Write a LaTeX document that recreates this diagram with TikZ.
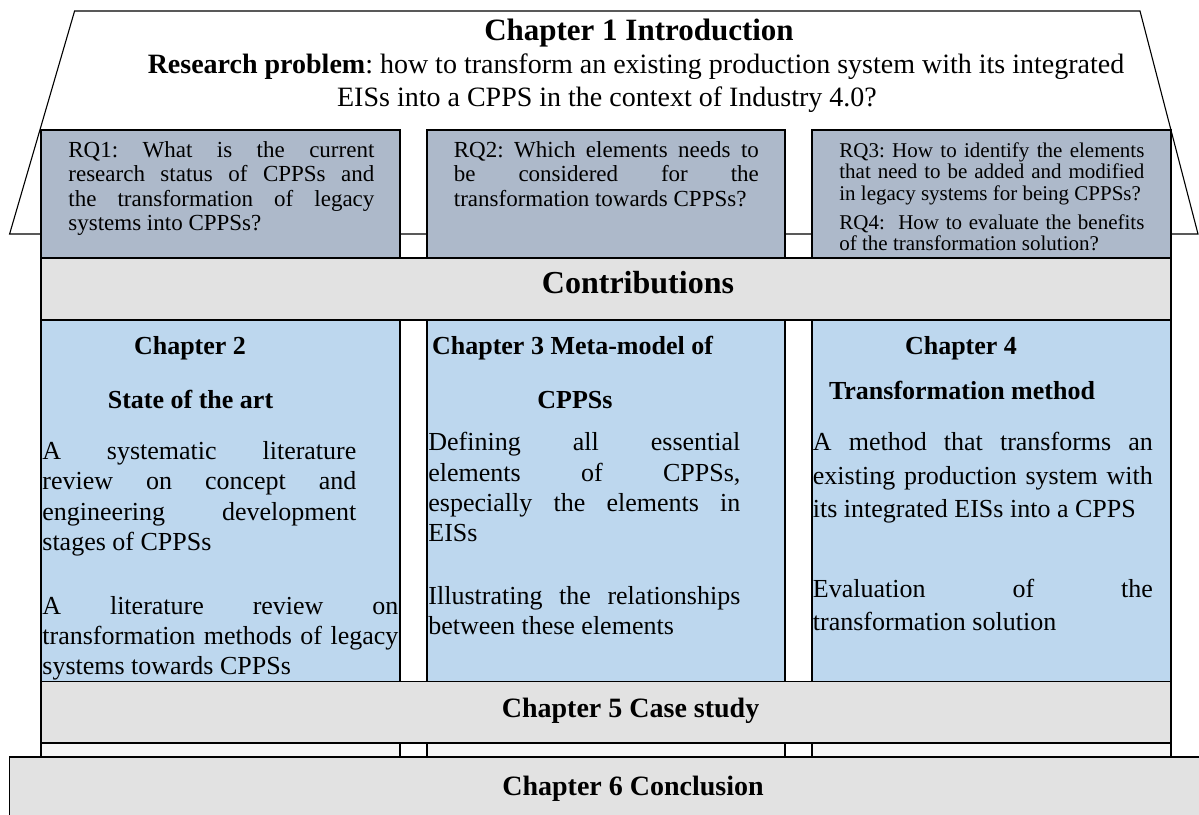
\documentclass[tikz,border=0pt]{standalone}
\usepackage{fontspec}
\setmainfont{Liberation Serif}
\frenchspacing
\definecolor{rqblue}{HTML}{ADB9CA}
\definecolor{chblue}{HTML}{BDD7EE}
\definecolor{bandgray}{HTML}{E2E2E2}
\definecolor{footgray}{HTML}{F5F5F5}
\newcommand{\fsz}[2]{\fontsize{#1}{#2}\selectfont}

\begin{document}
\begin{tikzpicture}[x=0.5pt,y=-0.5pt,
	roof/.style={draw=black,line width=0.55pt},
	boxline/.style={draw=black,line width=0.85pt},
	txt/.style={inner sep=0pt,anchor=base},
	para/.style={inner sep=0pt,anchor=base west,align=justify}]
			\clip (0,0) rectangle (1199,814);
			% roof of the house
			\draw [roof] (74.6,11) -- (1140,11) -- (1198,234) -- (9.6,234) -- cycle;
			\foreach \l/\r [count=\k] in {41.3/400.3,426.7/785,811.8/1171}{
				\draw [boxline,fill=rqblue] (\l,130) rectangle (\r,258.3);
				\draw [boxline,fill=chblue] (\l,320) rectangle (\r,681.5);
				\draw [boxline,fill=footgray] (\l,742.7) rectangle (\r,757.3);
			}
			\draw [boxline,fill=bandgray] (41.3,258.3) rectangle (1171,320);
			\draw [boxline,fill=bandgray] (41.3,681.5) rectangle (1171,742.7);
			\draw [boxline,fill=bandgray] (9.6,757.3) rectangle (1215,830);
			% roof texts
			\node [txt,font=\bfseries\fsz{15.5}{18}] (intro) at (639,40) {Chapter 1 Introduction};
			\node [txt,font=\fsz{14}{16}] (probl-a) at (636,73) {\textbf{Research problem}: how to transform an existing production system with its integrated};
			\node [txt,font=\fsz{14}{16}] (probl-b) at (607,106) {EISs into a CPPS in the context of Industry 4.0?};
			\node [para,text width=153pt,font=\fsz{11.5}{12.25}] (rq-1) at (68,157) {RQ1: What is the current\linebreak research status of CPPSs and\linebreak the transformation of legacy\linebreak systems into CPPSs?};
			\node [para,text width=152.5pt,font=\fsz{11.5}{12.25}] (rq-2) at (453.5,157) {RQ2: Which elements needs to\linebreak be considered for the\linebreak transformation towards CPPSs?};
			\node [para,text width=152.5pt,font=\fsz{10.5}{10.75}] (rq-3) at (839,157) {RQ3: How to identify the elements\linebreak that need to be added and modified\linebreak in legacy systems for being CPPSs?\par\vspace{3.75pt}RQ4:~ How to evaluate the benefits\linebreak of the transformation solution?};
			\node [txt,font=\bfseries\fsz{16}{19}] (contrib) at (638,293) {Contributions};
			% chapter columns
			\node [txt,font=\bfseries\fsz{13}{15}] (ch-2) at (190,354) {Chapter 2};
			\node [txt,font=\bfseries\fsz{13}{15}] (ch-2b) at (190.5,408) {State of the art};
			\node [txt,anchor=base west,font=\bfseries\fsz{13}{15}] (ch-3) at (431.7,354) {Chapter 3 Meta-model of};
			\node [txt,font=\bfseries\fsz{13}{15}] (ch-3b) at (575,408) {CPPSs};
			\node [txt,font=\bfseries\fsz{13}{15}] (ch-4) at (961,354) {Chapter 4};
			\node [txt,font=\bfseries\fsz{13}{15}] (ch-4b) at (962,399) {Transformation method};
			\node [para,text width=157pt,font=\fsz{13}{15.3}] (ch-2-a) at (42,459) {A systematic literature\linebreak review on concept and\linebreak engineering development\linebreak stages of CPPSs};
			\node [para,text width=178pt,font=\fsz{13}{15}] (ch-2-b) at (42,614) {A literature review on\linebreak transformation methods of legacy\linebreak systems towards CPPSs};
			\node [para,text width=156pt,font=\fsz{13}{15.2}] (ch-3-a) at (428,450.7) {Defining all essential\linebreak elements of CPPSs,\linebreak especially the elements in\linebreak EISs};
			\node [para,text width=156pt,font=\fsz{13}{15}] (ch-3-b) at (428,604) {Illustrating the relationships\linebreak between these elements};
			\node [para,text width=170pt,font=\fsz{13}{16.75}] (ch-4-a) at (812.5,450.7) {A method that transforms an\linebreak existing production system with\linebreak its integrated EISs into a CPPS};
			\node [para,text width=170pt,font=\fsz{13}{16.75}] (ch-4-b) at (812.5,597) {Evaluation of the\linebreak transformation solution};
			% base of the house
			\node [txt,font=\bfseries\fsz{14}{16}] (ch-5) at (630.6,717) {Chapter 5 Case study};
			\node [txt,font=\bfseries\fsz{14}{16}] (ch-6) at (633,795) {Chapter 6 Conclusion};
\end{tikzpicture}
\end{document}
